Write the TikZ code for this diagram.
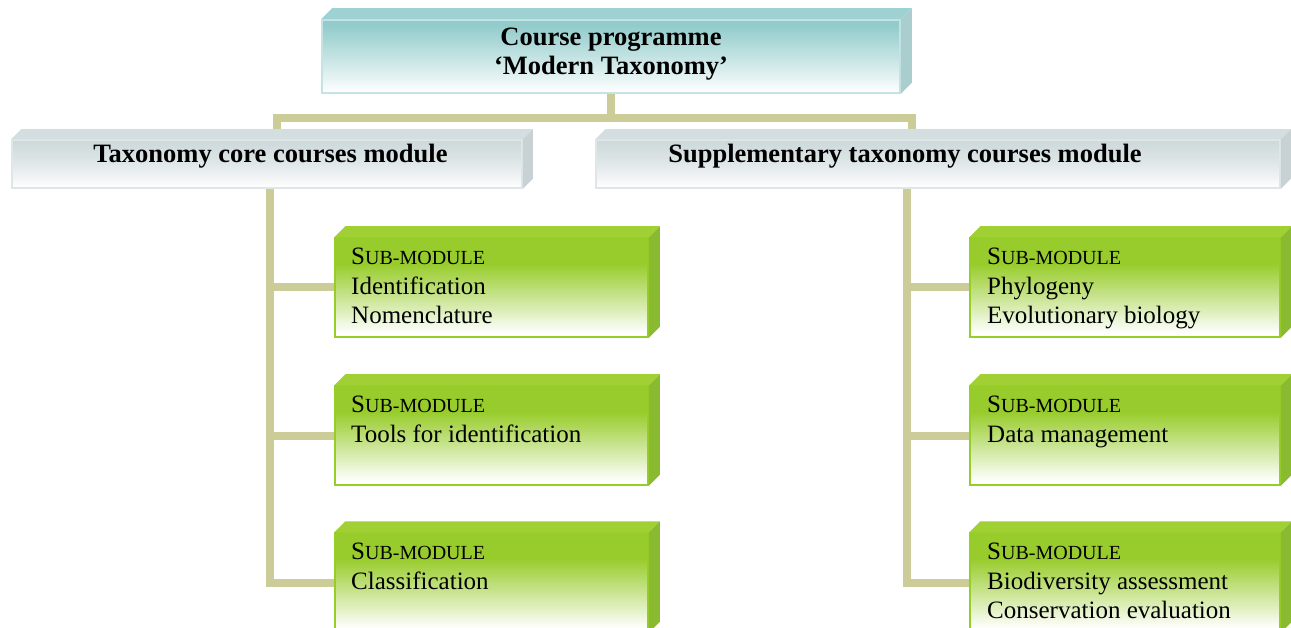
\documentclass[tikz,border=0pt]{standalone}
\usepackage{fontspec}
\setmainfont{Liberation Serif}
\usetikzlibrary{backgrounds,calc}
\definecolor{teal1}{RGB}{146,203,203}
\definecolor{tealtop}{RGB}{158,210,210}
\definecolor{tealside}{RGB}{170,205,205}
\definecolor{tealedge}{RGB}{196,228,228}
\definecolor{grey1}{RGB}{204,216,218}
\definecolor{greytop}{RGB}{212,222,224}
\definecolor{greyside}{RGB}{200,210,212}
\definecolor{greyedge}{RGB}{222,230,232}
\definecolor{green1}{RGB}{152,204,44}
\definecolor{greentop}{RGB}{160,208,52}
\definecolor{greenside}{RGB}{138,186,48}
\definecolor{greenedge}{RGB}{150,206,40}
\definecolor{connc}{RGB}{204,204,153}
\pgfdeclareverticalshading{tealsh}{100bp}{color(0bp)=(white); color(25bp)=(white); color(50bp)=(teal1!55!white); color(72bp)=(teal1); color(100bp)=(teal1)}
\pgfdeclareverticalshading{greysh}{100bp}{color(0bp)=(white); color(25bp)=(white); color(50bp)=(grey1!60!white); color(75bp)=(grey1); color(100bp)=(grey1)}
\pgfdeclareverticalshading{greensh}{100bp}{color(0bp)=(white); color(27bp)=(white); color(46bp)=(green1!55!white); color(62bp)=(green1); color(100bp)=(green1)}
\newcommand\drawbevel[4]{%
  \fill[#3] (#1.north west) -- ++(#2,-#2) -- ($(#1.north east)+(#2,-#2)$) -- (#1.north east) -- cycle;
  \fill[#4] (#1.north east) -- ++(#2,-#2) -- ($(#1.south east)+(#2,-#2)$) -- (#1.south east) -- cycle;
}
\tikzset{
  conn/.style={draw=connc, line width=8pt},
  topbox/.style={draw=tealedge, line width=1.5pt, shading=tealsh, minimum width=578pt, minimum height=73pt, inner sep=0pt},
  modbox/.style={draw=greyedge, line width=1.5pt, shading=greysh, minimum height=48pt, inner sep=0pt},
  subbox/.style={draw=greenedge, line width=1.5pt, shading=greensh, minimum height=99pt, inner sep=0pt},
  boldtext/.style={font=\fontsize{26.5}{29}\selectfont\bfseries, align=center, inner sep=0pt},
  subtext/.style={font=\fontsize{25}{29.5}\selectfont, align=left, inner sep=0pt, anchor=north west},
}
\newcommand\subhead{S{\fontsize{20}{29.5}\selectfont UB-MODULE}}
\begin{document}
\begin{tikzpicture}[x=1pt, y=-1pt]
\useasboundingbox (0,0) rectangle (1291,628);
\begin{pgfonlayer}{background}
\fill[white] (0,0) rectangle (1291,628);
\end{pgfonlayer}
% boxes
\node[topbox] (top) at (611,56.5) {};
\node[modbox, minimum width=510pt] (cm) at (267,164) {};
\node[modbox, minimum width=684pt] (sm) at (938,164) {};
\node[subbox, minimum width=313pt] (l1) at (491.5,287.5) {};
\node[subbox, minimum width=313pt] (l2) at (491.5,435.5) {};
\node[subbox, minimum width=313pt] (l3) at (491.5,582.5) {};
\node[subbox, minimum width=310pt] (r1) at (1125,287.5) {};
\node[subbox, minimum width=310pt] (r2) at (1125,435.5) {};
\node[subbox, minimum width=310pt] (r3) at (1125,582.5) {};
% bevels
\drawbevel{top}{11}{tealtop}{tealside}
\drawbevel{cm}{10}{greytop}{greyside}
\drawbevel{sm}{10}{greytop}{greyside}
\foreach \n in {l1,l2,l3,r1,r2,r3} {\drawbevel{\n}{11}{greentop}{greenside}}
% texts
\node[boldtext] (toptext) at (611,54) {Course programme\\‘Modern Taxonomy’};
\node[boldtext] (cmtext) at (270.5,156) {Taxonomy core courses module};
\node[boldtext] (smtext) at (905,156) {Supplementary taxonomy courses module};
\node[subtext] (l1t) at (351,248) {\subhead\\Identification\\Nomenclature};
\node[subtext] (l2t) at (351,396) {\subhead\\Tools for identification};
\node[subtext] (l3t) at (351,543) {\subhead\\Classification};
\node[subtext] (r1t) at (987,248) {\subhead\\Phylogeny\\Evolutionary biology};
\node[subtext] (r2t) at (987,396) {\subhead\\Data management};
\node[subtext] (r3t) at (987,543) {\subhead\\Biodiversity assessment\\Conservation evaluation};
% connectors
\coordinate (hub) at (611,118);
\coordinate (hl) at (277,118);
\coordinate (hr) at (912,118);
\coordinate (tl) at (270,188);
\coordinate (tr) at (907,188);
\begin{scope}[on background layer]
\draw[conn] (top.south) -- (hub);
\draw[conn] (hl |- cm.north) -- (hl) -- (hr) -- (hr |- sm.north);
\draw[conn] (tl) |- (l3.west);
\draw[conn] (tl |- l1.west) -- (l1.west);
\draw[conn] (tl |- l2.west) -- (l2.west);
\draw[conn] (tr) |- (r3.west);
\draw[conn] (tr |- r1.west) -- (r1.west);
\draw[conn] (tr |- r2.west) -- (r2.west);
\end{scope}
\end{tikzpicture}
\end{document}
